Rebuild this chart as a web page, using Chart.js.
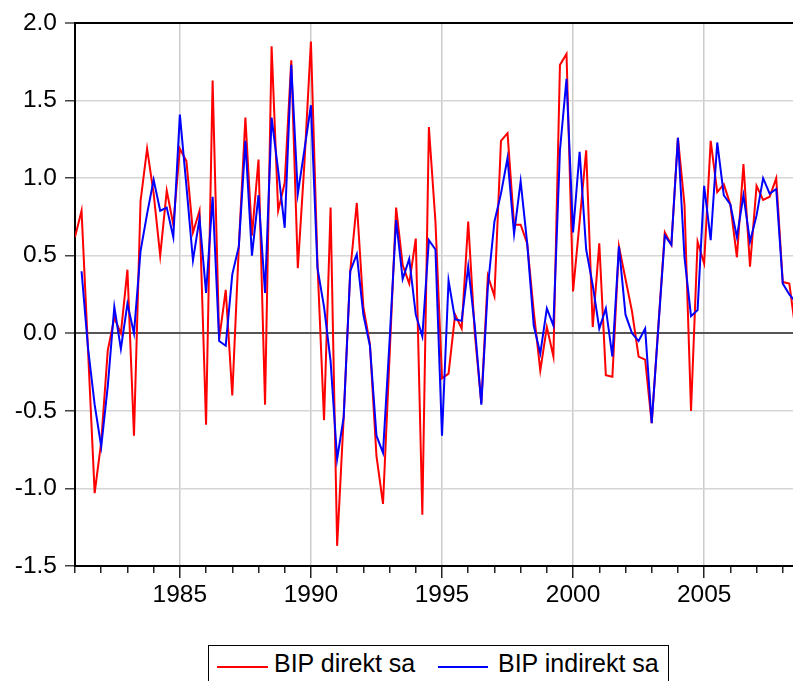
<!DOCTYPE html>
<html>
<head>
<meta charset="utf-8">
<script src="https://cdn.jsdelivr.net/npm/chart.js@4.4.0/dist/chart.umd.min.js"></script>
<style>
html,body{margin:0;padding:0;background:#fff;}
#wrap{position:relative;width:793px;height:681px;overflow:hidden;background:#fff;}
#c{position:absolute;left:0;top:0;}
#legend{position:absolute;left:208px;top:645px;width:461px;height:60px;border:1px solid #000;box-sizing:border-box;font-family:"Liberation Sans",Arial,sans-serif;font-size:25px;color:#000;background:#fff;}
.ln{position:absolute;height:2px;}
.tx{position:absolute;line-height:25px;white-space:nowrap;}
</style>
</head>
<body>
<div id="wrap">
<canvas id="c" width="793" height="681"></canvas>
<div id="legend">
  <div class="ln" style="left:8px;top:19.5px;width:51px;background:#ff0000"></div>
  <div class="tx" style="left:65px;top:5px">BIP direkt sa</div>
  <div class="ln" style="left:229px;top:19.5px;width:50px;background:#0000ff"></div>
  <div class="tx" style="left:289px;top:5px">BIP indirekt sa</div>
</div>
</div>
<script>
// ---- data (quarterly, 1981Q1 .. 2008Q3) ----
const startYear = 1981;
const seriesNames = ["BIP direkt sa", "BIP indirekt sa"];
const direkt = [
  0.62, 0.79, -0.12, -1.03,
  -0.70, -0.11, 0.10, 0.00,
  0.41, -0.66, 0.85, 1.19,
  0.90, 0.50, 0.92, 0.70,
  1.19, 1.11, 0.65, 0.79,
  -0.59, 1.63, -0.04, 0.28,
  -0.40, 0.56, 1.39, 0.63,
  1.12, -0.46, 1.85, 0.79,
  0.97, 1.76, 0.42, 1.09,
  1.88, 0.45, -0.56, 0.81,
  -1.37, -0.54, 0.40, 0.84,
  0.17, -0.07, -0.79, -1.10,
  -0.15, 0.81, 0.44, 0.32,
  0.61, -1.17, 1.33, 0.72,
  -0.29, -0.26, 0.12, 0.03,
  0.72, 0.00, -0.45, 0.37,
  0.24, 1.24, 1.29, 0.70,
  0.70, 0.58, 0.14, -0.24,
  0.04, -0.15, 1.73, 1.80,
  0.27, 0.72, 1.18, 0.04,
  0.58, -0.27, -0.28, 0.56,
  0.35, 0.14, -0.15, -0.17,
  -0.58, 0.04, 0.65, 0.57,
  1.26, 0.83, -0.50, 0.59,
  0.45, 1.24, 0.91, 0.96,
  0.83, 0.49, 1.09, 0.43,
  0.95, 0.86, 0.88, 1.00,
  0.33, 0.32, 0.00
];
const indirekt = [
  null, 0.40, -0.10, -0.46,
  -0.73, -0.34, 0.17, -0.10,
  0.19, 0.00, 0.53, 0.77,
  0.99, 0.79, 0.81, 0.62,
  1.41, 0.95, 0.47, 0.74,
  0.26, 0.88, -0.05, -0.08,
  0.38, 0.56, 1.24, 0.50,
  0.89, 0.26, 1.39, 1.05,
  0.68, 1.73, 0.90, 1.18,
  1.47, 0.42, 0.17, -0.18,
  -0.81, -0.54, 0.40, 0.51,
  0.12, -0.08, -0.66, -0.77,
  -0.05, 0.73, 0.35, 0.48,
  0.12, -0.02, 0.60, 0.54,
  -0.66, 0.34, 0.09, 0.08,
  0.43, 0.05, -0.46, 0.30,
  0.72, 0.90, 1.13, 0.64,
  0.98, 0.58, 0.05, -0.13,
  0.16, 0.05, 1.18, 1.64,
  0.65, 1.17, 0.54, 0.31,
  0.03, 0.16, -0.15, 0.56,
  0.12, 0.00, -0.05, 0.03,
  -0.58, 0.03, 0.63, 0.57,
  1.26, 0.49, 0.11, 0.15,
  0.95, 0.60, 1.23, 0.89,
  0.83, 0.62, 0.89, 0.59,
  0.76, 1.00, 0.90, 0.93,
  0.32, 0.25, 0.20
];
const yearTicks = [1981,1982,1983,1984,1985,1986,1987,1988,1989,1990,1991,1992,1993,1994,1995,1996,1997,1998,1999,2000,2001,2002,2003,2004,2005,2006,2007,2008];
const yTickValues = [-1.5,-1.0,-0.5,0.0,0.5,1.0,1.5,2.0];

// quarter category labels
const quarters = direkt.map((_, i) => (startYear + Math.floor(i / 4)) + "Q" + (i % 4 + 1));
const qToX = q => { const p = q.split("Q"); return parseInt(p[0], 10) + (parseInt(p[1], 10) - 1) / 4; };

const FONT = "'Liberation Sans', Arial, sans-serif";

new Chart(document.getElementById("c"), {
  type: "line",
  data: {
    datasets: [
      {
        label: seriesNames[0],
        data: quarters.map((q, i) => ({ x: qToX(q), y: direkt[i] })),
        borderColor: "#ff0000",
        borderWidth: 2,
        pointRadius: 0,
        tension: 0,
        order: 1
      },
      {
        label: seriesNames[1],
        data: quarters.map((q, i) => ({ x: qToX(q), y: indirekt[i] })),
        borderColor: "#0000ff",
        borderWidth: 2,
        pointRadius: 0,
        tension: 0,
        order: 0
      }
    ]
  },
  options: {
    responsive: false,
    devicePixelRatio: 1,
    animation: false,
    events: [],
    layout: { padding: { top: 23, left: 0, right: 0, bottom: 70 } },
    plugins: { legend: { display: false }, tooltip: { enabled: false } },
    scales: {
      x: {
        type: "linear",
        min: 1981,
        max: 2008.39,
        afterBuildTicks: s => { s.ticks = yearTicks.map(v => ({ value: v })); },
        afterFit: s => { s.height = 45; },
        ticks: {
          autoSkip: false,
          maxRotation: 0,
          padding: 3,
          color: "#000",
          font: { family: FONT, size: 24.5 },
          callback: v => (v % 5 === 0 ? String(v) : "")
        },
        grid: {
          color: ctx => (ctx.tick && ctx.tick.value % 5 === 0 ? "#cccccc" : "rgba(0,0,0,0)"),
          lineWidth: 1.5,
          tickColor: "#222",
          tickWidth: 1.5,
          tickLength: 12,
          tickBorderDash: ctx => (ctx.tick && ctx.tick.value % 5 === 0 ? [] : [6, 100])
        },
        border: { color: "#000", width: 2 }
      },
      y: {
        type: "linear",
        min: -1.5,
        max: 2.0,
        afterBuildTicks: s => { s.ticks = yTickValues.map(v => ({ value: v })); },
        afterFit: s => { s.width = 75; },
        ticks: {
          padding: 8,
          color: "#000",
          font: { family: FONT, size: 24.5 },
          callback: v => Number(v).toFixed(1)
        },
        grid: {
          color: ctx => {
            const v = ctx.tick ? ctx.tick.value : null;
            if (v === 0) return "#555555";
            if (v === 2) return "#000000";
            if (v === -1.5) return "rgba(0,0,0,0)";
            return "#d6d6d6";
          },
          lineWidth: ctx => {
            const v = ctx.tick ? ctx.tick.value : null;
            return (v === 0 || v === 2) ? 2 : 1.5;
          },
          tickColor: "#444",
          tickWidth: 1.5,
          tickLength: 10
        },
        border: { color: "#000", width: 2 }
      }
    }
  }
});
</script>
</body>
</html>
